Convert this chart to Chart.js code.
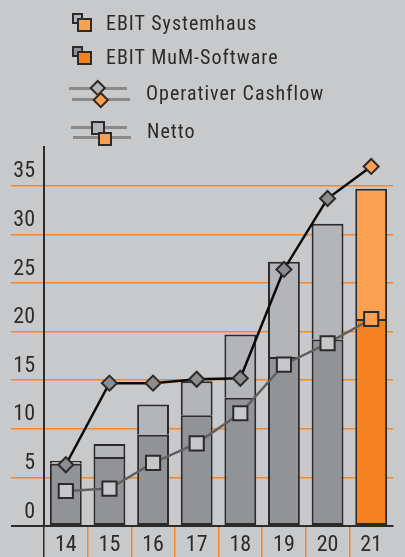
<!DOCTYPE html>
<html>
<head>
<meta charset="utf-8">
<script src="https://cdn.jsdelivr.net/npm/chart.js@4/dist/chart.umd.min.js"></script>
<style>
  html, body { margin: 0; padding: 0; background: #c8c9cb; }
  #wrap { position: relative; width: 405px; height: 557px; overflow: hidden; }
  #c { position: absolute; left: 0; top: 0; }
  .lg { position: absolute; box-sizing: border-box; }
  .sq { border: 2px solid #2b2b2b; }
  .ln { background: #8a8a8a; height: 3px; }
  .txt { font-family: "Roboto Condensed", sans-serif; font-size: 20px; line-height: 20px;
         letter-spacing: 1px; color: #2b2b2b; white-space: nowrap; }
</style>
</head>
<body>
<div id="wrap">
  <canvas id="c" width="405" height="557"></canvas>
  <!-- legend -->
  <div class="lg sq" style="left:71.5px;top:13px;width:11px;height:11px;background:#b4b5b8"></div>
  <div class="lg sq" style="left:76.5px;top:17.5px;width:15px;height:14.5px;background:#f9a051"></div>
  <div class="lg txt" style="left:106px;top:13px">EBIT Systemhaus</div>

  <div class="lg sq" style="left:71.5px;top:46px;width:11px;height:11px;background:#929396"></div>
  <div class="lg sq" style="left:76.5px;top:50.5px;width:15px;height:14.5px;background:#f58220"></div>
  <div class="lg txt" style="left:106px;top:47px">EBIT MuM-Software</div>

  <div class="lg ln" style="left:69px;top:87px;width:58px"></div>
  <div class="lg ln" style="left:72px;top:97.5px;width:58px"></div>
  <div class="lg sq" style="left:92px;top:82.3px;width:11.5px;height:11.5px;background:#b4b5b8;transform:rotate(45deg)"></div>
  <div class="lg sq" style="left:95.3px;top:93.5px;width:11.5px;height:11.5px;background:#f9a051;transform:rotate(45deg)"></div>
  <div class="lg txt" style="left:146px;top:82.5px">Operativer Cashflow</div>

  <div class="lg ln" style="left:71px;top:126px;width:56px"></div>
  <div class="lg ln" style="left:73px;top:136px;width:58px"></div>
  <div class="lg sq" style="left:91px;top:120.5px;width:14px;height:14px;background:#b4b5b8"></div>
  <div class="lg sq" style="left:97.5px;top:131.5px;width:14.5px;height:14px;background:#f9a051"></div>
  <div class="lg txt" style="left:147px;top:121px">Netto</div>
</div>
<script>
// ---- data ----
const categories = ['14', '15', '16', '17', '18', '19', '20', '21'];
const ebitMuM = [6.4, 7.1, 9.4, 11.4, 13.2, 17.4, 19.2, 21.3];
const ebitSystemhaus = [0.3, 1.35, 3.1, 3.5, 6.5, 9.8, 11.9, 13.4];
const cashflow = [6.3, 14.7, 14.7, 15.1, 15.2, 26.4, 33.7, 37.0];
const netto = [3.6, 3.85, 6.5, 8.5, 11.6, 16.6, 18.8, 21.3];
const yTicks = [0, 5, 10, 15, 20, 25, 30, 35];
const yMax = 39;

// ---- styles ----
const DARK = '#2b2b2b';
const ORANGE_GRID = '#f5872a';
const lastIdx = categories.length - 1;
const per = (normal, last) => categories.map((_, i) => i === lastIdx ? last : normal);

const FONT = { family: '"Roboto Condensed", sans-serif', size: 22 };

new Chart(document.getElementById('c'), {
  data: {
    labels: categories,
    datasets: [
      {
        type: 'bar', label: 'EBIT MuM-Software', data: ebitMuM, stack: 'ebit', order: 3,
        backgroundColor: per('#929396', '#f58220'), borderColor: DARK, borderWidth: 2,
        borderSkipped: false, barPercentage: 0.73, categoryPercentage: 1
      },
      {
        type: 'bar', label: 'EBIT Systemhaus', data: ebitSystemhaus, stack: 'ebit', order: 3,
        backgroundColor: per('#b4b5b8', '#f9a051'), borderColor: DARK, borderWidth: 2,
        borderSkipped: 'start', barPercentage: 0.73, categoryPercentage: 1
      },
      {
        type: 'line', label: 'Netto', data: netto, stack: 'netto', order: 2,
        borderColor: '#606060', borderWidth: 2.5, tension: 0,
        pointStyle: 'rect', pointRadius: 10, pointHoverRadius: 10,
        pointBackgroundColor: per('#c6c7c9', '#f9a051'), pointBorderColor: DARK, pointBorderWidth: 2
      },
      {
        type: 'line', label: 'Operativer Cashflow', data: cashflow, stack: 'cf', order: 1,
        borderColor: '#0a0a0a', borderWidth: 2.5, tension: 0,
        pointStyle: 'rectRot', pointRadius: 7.5, pointHoverRadius: 7.5,
        pointBackgroundColor: per('#8c8d8f', '#f9a051'), pointBorderColor: DARK, pointBorderWidth: 2
      }
    ]
  },
  options: {
    responsive: false,
    animation: false,
    events: [],
    layout: { padding: { top: 147, right: 3, left: 0, bottom: 0 } },
    plugins: { legend: { display: false }, tooltip: { enabled: false } },
    scales: {
      x: {
        stacked: true,
        afterFit: (s) => { s.height = 31; },
        border: { display: true, color: DARK, width: 2 },
        grid: {
          offset: true, drawOnChartArea: false, drawTicks: true, tickLength: 31, lineWidth: 1.5,
          color: (ctx) => ctx.index === undefined ? 'rgba(0,0,0,0)' : (ctx.index === 0 ? DARK : ORANGE_GRID)
        },
        ticks: { color: DARK, font: FONT, padding: -25, maxRotation: 0 }
      },
      y: {
        stacked: true,
        min: 0, max: yMax,
        afterFit: (s) => { s.width = 44; },
        afterBuildTicks: (s) => { s.ticks = yTicks.map(v => ({ value: v })); },
        border: { display: true, color: DARK, width: 2 },
        grid: {
          drawOnChartArea: true, drawTicks: true, tickLength: 33,
          lineWidth: (ctx) => ctx.tick && ctx.tick.value === 0 ? 2 : 1.5,
          color: (ctx) => ctx.tick && ctx.tick.value === 0 ? DARK : ORANGE_GRID
        },
        ticks: { color: DARK, font: FONT, padding: -24, labelOffset: -14 }
      }
    }
  }
});
</script>
</body>
</html>
